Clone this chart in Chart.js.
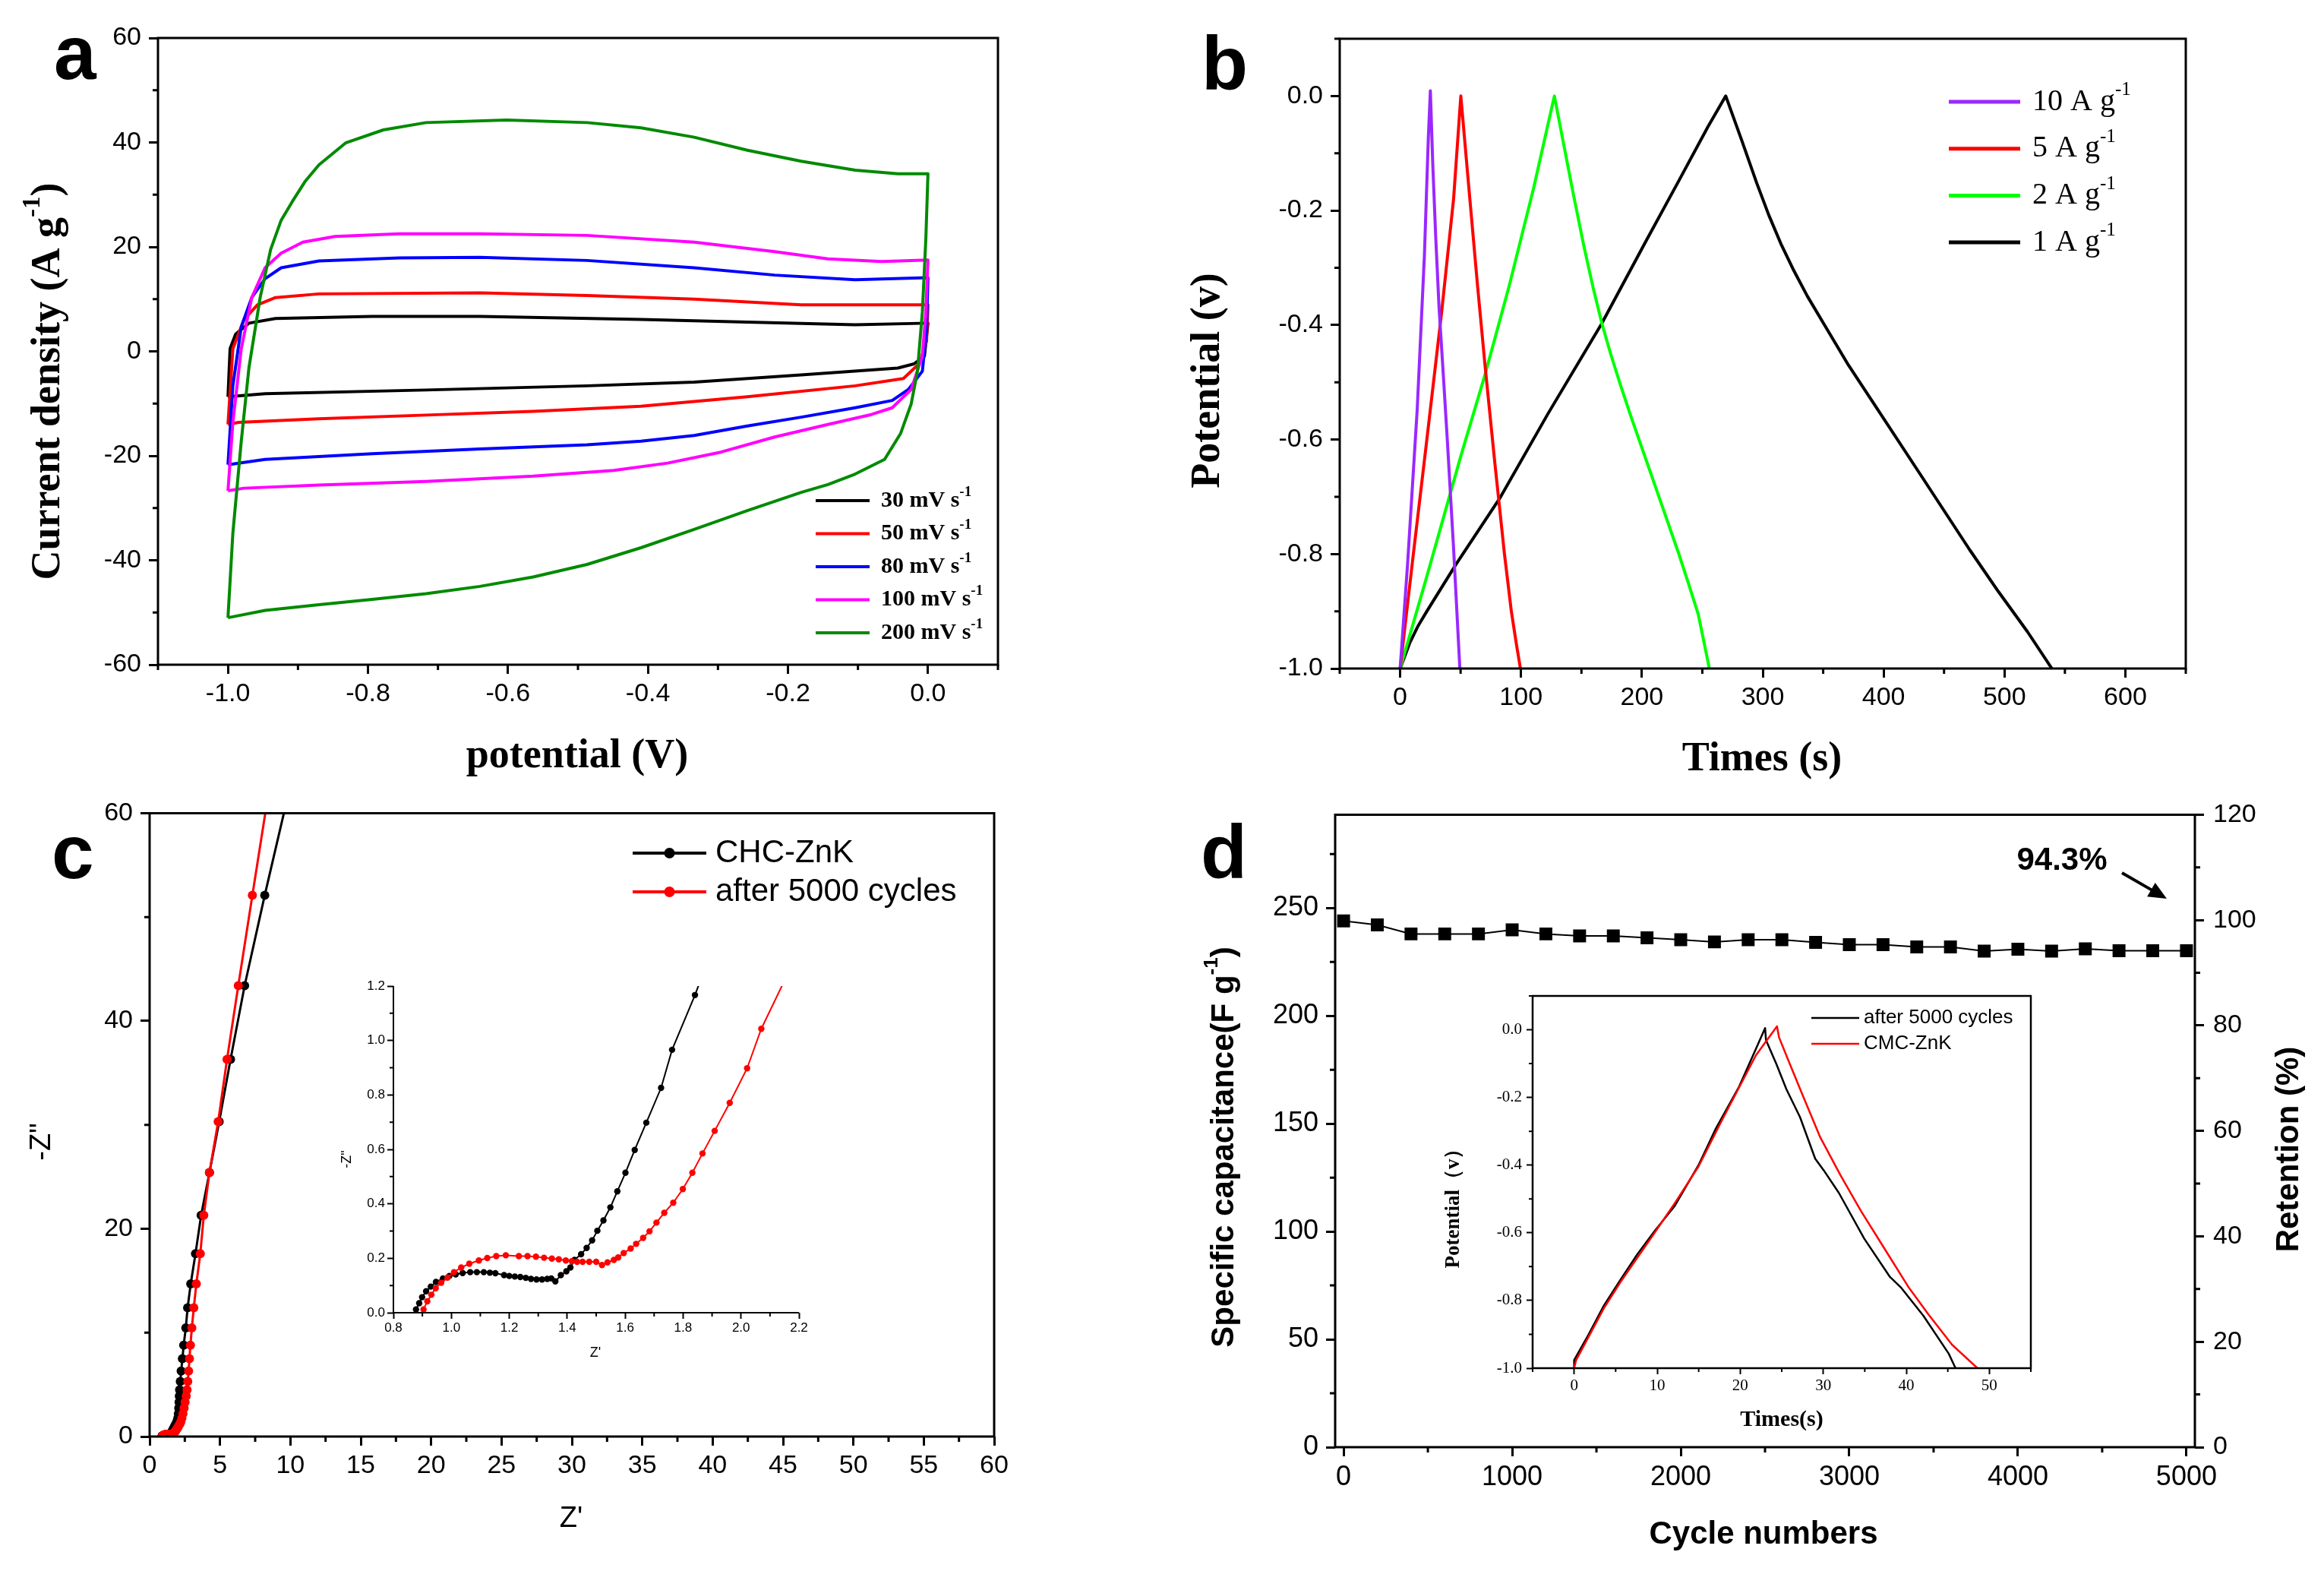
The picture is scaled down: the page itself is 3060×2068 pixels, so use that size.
<!DOCTYPE html>
<html>
<head>
<meta charset="utf-8">
<script src="https://cdn.jsdelivr.net/npm/chart.js@4.4.1/dist/chart.umd.min.js"></script>
<style>
  html, body { margin: 0; padding: 0; background: #fff; }
  #fig { position: relative; width: 3060px; height: 2068px; overflow: hidden; background: #fff; }
  #fig canvas { position: absolute; }
</style>
</head>
<body>
<div id="fig"></div>
<script>
// --- (a) cyclic voltammetry: potential (V) / current density (A g-1) ---
const cvLabels = ['30 mV s^{-1}', '50 mV s^{-1}', '80 mV s^{-1}', '100 mV s^{-1}', '200 mV s^{-1}'];
const cv30V = [-1.0, -0.997, -0.989, -0.97, -0.932, -0.794, -0.64, -0.41, -0.258, -0.104, 0.0, -0.005, -0.02, -0.043, -0.181, -0.334, -0.487, -0.717, -0.947, -1.0];
const cv30I = [-8.7, 0.5, 3.3, 5.4, 6.3, 6.7, 6.7, 6.1, 5.6, 5.1, 5.4, -0.9, -2.4, -3.2, -4.5, -5.9, -6.6, -7.4, -8.1, -8.7];
const cv50V = [-1.0, -0.993, -0.977, -0.958, -0.932, -0.87, -0.64, -0.487, -0.334, -0.181, 0.0, -0.002, -0.012, -0.035, -0.104, -0.258, -0.41, -0.564, -0.717, -0.87, -0.985, -1.0];
const cv50I = [-14.0, 0.5, 6.1, 8.9, 10.3, 11.0, 11.2, 10.7, 10.0, 8.9, 8.9, 1.9, -2.3, -5.2, -6.6, -8.7, -10.5, -11.5, -12.2, -12.9, -13.6, -14.0];
const cv80V = [-1.0, -0.993, -0.981, -0.966, -0.947, -0.924, -0.87, -0.755, -0.64, -0.487, -0.334, -0.219, -0.104, 0.0, -0.002, -0.008, -0.028, -0.051, -0.104, -0.181, -0.258, -0.334, -0.41, -0.487, -0.64, -0.794, -0.947, -1.0];
const cv80I = [-21.7, -6.6, 4.7, 10.3, 13.9, 16.0, 17.3, 17.9, 18.0, 17.4, 16.0, 14.6, 13.7, 14.1, 4.0, -3.8, -7.3, -9.4, -10.8, -12.6, -14.3, -16.1, -17.2, -17.9, -18.7, -19.6, -20.7, -21.7];
const cv100V = [-1.0, -0.993, -0.981, -0.966, -0.947, -0.924, -0.893, -0.847, -0.755, -0.64, -0.487, -0.334, -0.219, -0.143, -0.066, 0.0, -0.003, -0.008, -0.024, -0.051, -0.081, -0.143, -0.219, -0.296, -0.372, -0.449, -0.564, -0.717, -0.87, -0.977, -1.0];
const cv100I = [-26.7, -13.6, 0.5, 10.3, 16.0, 18.8, 20.9, 22.0, 22.5, 22.5, 22.2, 20.9, 19.1, 17.7, 17.2, 17.5, 7.5, -0.9, -7.3, -10.8, -12.1, -14.0, -16.4, -19.3, -21.4, -22.8, -23.9, -24.9, -25.6, -26.2, -26.7];
const cv200V = [-1.0, -0.993, -0.981, -0.970, -0.954, -0.939, -0.924, -0.908, -0.89, -0.87, -0.832, -0.778, -0.717, -0.602, -0.487, -0.41, -0.334, -0.258, -0.181, -0.104, -0.043, 0.0, -0.003, -0.008, -0.015, -0.024, -0.039, -0.062, -0.104, -0.143, -0.181, -0.258, -0.334, -0.41, -0.487, -0.564, -0.64, -0.717, -0.794, -0.87, -0.947, -1.0];
const cv200I = [-51.0, -34.8, -17.2, -3.1, 10.3, 19.5, 25.1, 28.7, 32.5, 35.7, 39.9, 42.4, 43.8, 44.3, 43.8, 42.8, 41.0, 38.5, 36.4, 34.7, 34.0, 34.0, 21.6, 7.5, -3.8, -10.1, -15.7, -20.7, -23.5, -25.5, -27.0, -30.5, -34.1, -37.6, -40.8, -43.2, -45.0, -46.4, -47.5, -48.5, -49.6, -51.0];
const aTicksX = [-1.0, -0.8, -0.6, -0.4, -0.2, 0.0];
const aMinorX = [-1.1, -0.9, -0.7, -0.5, -0.3, -0.1, 0.1];
const aTicksY = [-60, -40, -20, 0, 20, 40, 60];
const aMinorY = [-50, -30, -10, 10, 30, 50];

// --- (b) charge/discharge curves: time (s) / potential (V) ---
const gcdLabels = ['10 A g^{-1}', '5 A g^{-1}', '2 A g^{-1}', '1 A g^{-1}'];
const gcd10T = [0, 6.1, 14.1, 20.1, 23.3, 25.0, 27.0, 29.5, 32.2, 35.5, 39.0, 44.2, 49.4];
const gcd10V = [-1.0, -0.819, -0.548, -0.277, -0.074, 0.009, -0.12, -0.25, -0.37, -0.48, -0.6, -0.79, -1.0];
const gcd5T = [0, 10.1, 22.1, 34.2, 44.2, 50.2, 56.2, 64.2, 70.2, 78.3, 86.3, 92.0, 96.0, 99.5];
const gcd5V = [-1.0, -0.815, -0.6, -0.38, -0.18, 0.0, -0.145, -0.335, -0.47, -0.64, -0.80, -0.9, -0.955, -1.0];
const gcd2T = [0, 22.1, 50.2, 70.2, 90.3, 110.3, 127.6, 142.4, 152.0, 160.0, 167.0, 174.4, 182.0, 190.5, 210.5, 230.6, 238.0, 246.6, 251.0, 255.8];
const gcd2V = [-1.0, -0.839, -0.629, -0.487, -0.331, -0.162, 0.0, -0.162, -0.262, -0.338, -0.398, -0.452, -0.503, -0.557, -0.678, -0.8, -0.848, -0.905, -0.95, -1.0];
const gcd1T = [0, 8, 15, 22.1, 46.2, 82.3, 122.3, 166.4, 202.5, 230.6, 254.6, 269.4, 282.7, 295, 305, 315, 325, 337, 350.8, 370, 390.9, 431.0, 471.0, 495.1, 519.1, 539.2];
const gcd1V = [-1.0, -0.955, -0.925, -0.9, -0.818, -0.703, -0.555, -0.399, -0.257, -0.148, -0.054, 0.0, -0.078, -0.152, -0.208, -0.258, -0.302, -0.35, -0.399, -0.467, -0.534, -0.663, -0.792, -0.866, -0.936, -1.0];
const bTicksX = [0, 100, 200, 300, 400, 500, 600];
const bMinorX = [-50, 50, 150, 250, 350, 450, 550, 650];
const bTicksY = [-1.0, -0.8, -0.6, -0.4, -0.2, 0.0];
const bMinorY = [-0.9, -0.7, -0.5, -0.3, -0.1, 0.1];

// --- (c) Nyquist plots: Z' / -Z'' (main plot and inset share the data) ---
const eisLabels = ['CHC-ZnK', 'after 5000 cycles'];
const eisFreshRe = [0.878, 0.889, 0.899, 0.913, 0.929, 0.947, 0.971, 0.993, 1.015, 1.039, 1.065, 1.088, 1.112, 1.133, 1.152, 1.182, 1.200, 1.219, 1.238, 1.257, 1.275, 1.294, 1.313, 1.331, 1.345, 1.359, 1.378, 1.397, 1.411, 1.425, 1.448, 1.467, 1.486, 1.504, 1.525, 1.549, 1.573, 1.601, 1.633, 1.673, 1.724, 1.762, 1.841, 1.93, 2.00, 2.04, 2.07, 2.09, 2.11, 2.13, 2.18, 2.24, 2.33, 2.42, 2.57, 2.70, 2.92, 3.26, 3.66, 4.25, 4.94, 5.75, 6.75, 8.18, 10.4];
const eisFreshIm = [0.012, 0.035, 0.057, 0.079, 0.096, 0.113, 0.126, 0.135, 0.141, 0.146, 0.149, 0.149, 0.149, 0.147, 0.145, 0.138, 0.135, 0.133, 0.131, 0.128, 0.124, 0.122, 0.122, 0.124, 0.126, 0.115, 0.138, 0.152, 0.166, 0.194, 0.215, 0.238, 0.266, 0.301, 0.339, 0.387, 0.446, 0.514, 0.598, 0.698, 0.826, 0.966, 1.167, 1.42, 1.75, 2.2, 2.75, 3.3, 3.9, 4.5, 5.3, 6.3, 7.5, 8.8, 10.45, 12.4, 14.7, 17.6, 21.3, 25.4, 30.3, 36.3, 43.4, 52.1, 65.0];
const eisCycledRe = [0.904, 0.917, 0.931, 0.946, 0.965, 0.987, 1.009, 1.034, 1.062, 1.095, 1.124, 1.155, 1.188, 1.233, 1.263, 1.292, 1.320, 1.347, 1.371, 1.395, 1.416, 1.434, 1.453, 1.476, 1.500, 1.520, 1.539, 1.561, 1.576, 1.595, 1.619, 1.638, 1.662, 1.684, 1.708, 1.735, 1.766, 1.799, 1.832, 1.867, 1.909, 1.961, 2.021, 2.070, 2.15, 2.22, 2.29, 2.37, 2.45, 2.52, 2.60, 2.66, 2.71, 2.77, 2.83, 2.90, 3.00, 3.14, 3.32, 3.60, 3.85, 4.25, 4.87, 5.50, 6.30, 7.30, 8.8];
const eisCycledIm = [0.012, 0.042, 0.066, 0.090, 0.110, 0.129, 0.149, 0.166, 0.180, 0.192, 0.201, 0.208, 0.211, 0.208, 0.208, 0.206, 0.202, 0.199, 0.196, 0.192, 0.189, 0.187, 0.187, 0.187, 0.187, 0.175, 0.185, 0.194, 0.203, 0.219, 0.236, 0.253, 0.275, 0.299, 0.331, 0.367, 0.404, 0.454, 0.514, 0.585, 0.668, 0.771, 0.898, 1.043, 1.22, 1.45, 1.75, 2.2, 2.75, 3.3, 3.9, 4.5, 5.3, 6.3, 7.5, 8.8, 10.45, 12.4, 14.7, 17.6, 21.3, 25.4, 30.3, 36.3, 43.4, 52.1, 65.0];
const cTicksX = [0, 5, 10, 15, 20, 25, 30, 35, 40, 45, 50, 55, 60];
const cMinorX = [2.5, 7.5, 12.5, 17.5, 22.5, 27.5, 32.5, 37.5, 42.5, 47.5, 52.5, 57.5];
const cTicksY = [0, 20, 40, 60];
const cMinorY = [10, 30, 50];
const ciTicksX = [0.8, 1.0, 1.2, 1.4, 1.6, 1.8, 2.0, 2.2];
const ciMinorX = [0.9, 1.1, 1.3, 1.5, 1.7, 1.9, 2.1];
const ciTicksY = [0.0, 0.2, 0.4, 0.6, 0.8, 1.0, 1.2];
const ciMinorY = [0.1, 0.3, 0.5, 0.7, 0.9, 1.1];

// --- (d) cycling stability + inset charge/discharge ---
const cycles = [0, 200, 400, 600, 800, 1000, 1200, 1400, 1600, 1800, 2000, 2200, 2400, 2600, 2800, 3000, 3200, 3400, 3600, 3800, 4000, 4200, 4400, 4600, 4800, 5000];
const capacitance = [244.0, 242.2, 238.0, 238.0, 238.0, 239.9, 238.0, 237.1, 237.1, 236.2, 235.3, 234.3, 235.3, 235.3, 234.1, 233.0, 233.0, 232.0, 232.0, 230.0, 230.9, 230.0, 231.1, 230.2, 230.2, 230.2];
const retentionNote = '94.3%';
const dTicksX = [0, 1000, 2000, 3000, 4000, 5000];
const dMinorX = [500, 1500, 2500, 3500, 4500];
const dTicksY = [0, 50, 100, 150, 200, 250];
const dMinorY = [25, 75, 125, 175, 225, 275];
const dTicksY2 = [0, 20, 40, 60, 80, 100, 120];
const dMinorY2 = [10, 30, 50, 70, 90, 110];
const insetLabels = ['after 5000 cycles', 'CMC-ZnK'];
const gcdAfterT = [0, 0, 1.55, 3.58, 5.62, 7.65, 9.69, 12.13, 14.98, 17.0, 19.87, 21.9, 23.0, 23.1, 24.35, 25.57, 27.2, 29.03, 30.05, 31.88, 34.93, 37.99, 39.41, 42.06, 45.11, 45.93];
const gcdAfterV = [-1.0, -0.976, -0.909, -0.815, -0.737, -0.662, -0.595, -0.52, -0.40, -0.295, -0.168, -0.056, 0.005, -0.03, -0.101, -0.176, -0.258, -0.381, -0.415, -0.482, -0.617, -0.729, -0.763, -0.845, -0.957, -1.0];
const gcdCmcT = [0, 0.24, 3.58, 5.62, 9.69, 12.13, 14.98, 17.83, 21.9, 24.43, 24.67, 25.97, 27.6, 29.64, 32.08, 34.53, 37.38, 40.23, 42.67, 45.52, 48.57];
const gcdCmcV = [-1.0, -0.976, -0.823, -0.744, -0.6, -0.512, -0.404, -0.266, -0.075, 0.01, -0.022, -0.101, -0.198, -0.318, -0.43, -0.535, -0.647, -0.759, -0.841, -0.931, -1.0];
const diTicksX = [0, 10, 20, 30, 40, 50];
const diMinorX = [-5, 5, 15, 25, 35, 45, 55];
const diTicksY = [-1.0, -0.8, -0.6, -0.4, -0.2, 0.0];
const diMinorY = [-0.9, -0.7, -0.5, -0.3, -0.1, 0.1];

// --- styles ---
const SERIF = '"Liberation Serif", "DejaVu Serif", serif';
const SANS = '"Liberation Sans", "DejaVu Sans", sans-serif';
const cvColors = ['#000000', '#ff0000', '#0000ff', '#ff00ff', '#008a00'];
const gcdColors = ['#9a28ff', '#ff0000', '#00ff00', '#000000'];
const fmt0 = v => String(v);
const fmt1 = v => v.toFixed(1);
const ROT = -Math.PI / 2;

// split "A g^{-1}" into normal / superscript pieces
function richParts(str) {
  const parts = [];
  const re = /\^\{([^}]*)\}/g;
  let last = 0, m;
  while ((m = re.exec(str))) {
    if (m.index > last) parts.push([str.slice(last, m.index), false]);
    parts.push([m[1], true]);
    last = re.lastIndex;
  }
  if (last < str.length) parts.push([str.slice(last), false]);
  return parts;
}

function drawRich(ctx, t, off) {
  const parts = richParts(t.text);
  const w8 = t.weight || 'normal';
  const big = `${w8} ${t.size}px ${t.family}`;
  const small = `${w8} ${Math.round(t.size * 0.62)}px ${t.family}`;
  let total = 0;
  const widths = parts.map(([s, sup]) => {
    ctx.font = sup ? small : big;
    const w = ctx.measureText(s).width;
    total += w;
    return w;
  });
  ctx.save();
  ctx.translate(t.x - off[0], t.y - off[1]);
  if (t.rot) ctx.rotate(t.rot);
  ctx.fillStyle = '#000';
  ctx.textAlign = 'left';
  ctx.textBaseline = t.baseline || 'middle';
  let x = t.align === 'left' ? 0 : t.align === 'right' ? -total : -total / 2;
  parts.forEach(([s, sup], i) => {
    ctx.font = sup ? small : big;
    ctx.fillText(s, x, sup ? -t.size * 0.38 : 0);
    x += widths[i];
  });
  ctx.restore();
}

// frame, minor ticks, legend, free texts, arrows
const decor = {
  id: 'decor',
  afterDraw(chart, args, o) {
    const ctx = chart.ctx, a = chart.chartArea, off = o.offset;
    ctx.save();
    ctx.strokeStyle = '#000';
    if (o.frame) {
      ctx.lineWidth = o.frameWidth;
      ctx.beginPath();
      if (o.frame === 'box') ctx.rect(a.left, a.top, a.right - a.left, a.bottom - a.top);
      else { ctx.moveTo(a.left, a.top); ctx.lineTo(a.left, a.bottom); ctx.lineTo(a.right, a.bottom); }
      ctx.stroke();
    }
    (o.minor || []).forEach(m => {
      const s = chart.scales[m.axis];
      ctx.lineWidth = m.width;
      ctx.beginPath();
      m.values.forEach(v => {
        const p = s.getPixelForValue(v);
        if (m.axis === 'x') { ctx.moveTo(p, a.bottom); ctx.lineTo(p, a.bottom + m.len); }
        else if (s.position === 'right') { ctx.moveTo(a.right, p); ctx.lineTo(a.right + m.len, p); }
        else { ctx.moveTo(a.left, p); ctx.lineTo(a.left - m.len, p); }
      });
      ctx.stroke();
    });
    if (o.legend) {
      const L = o.legend;
      chart.data.datasets.forEach((ds, k) => {
        const y = L.y0 + k * L.dy;
        ctx.strokeStyle = ds.borderColor;
        ctx.lineWidth = L.lineWidth;
        ctx.beginPath();
        ctx.moveTo(L.x1 - off[0], y - off[1]);
        ctx.lineTo(L.x2 - off[0], y - off[1]);
        ctx.stroke();
        if (L.marker) {
          ctx.fillStyle = ds.borderColor;
          ctx.beginPath();
          ctx.arc((L.x1 + L.x2) / 2 - off[0], y - off[1], L.marker, 0, Math.PI * 2);
          ctx.fill();
        }
        drawRich(ctx, { text: ds.label, x: L.tx, y: y, size: L.size, family: L.family, weight: L.weight, align: 'left' }, off);
      });
    }
    (o.arrows || []).forEach(ar => {
      const x1 = ar.from[0] - off[0], y1 = ar.from[1] - off[1];
      const x2 = ar.to[0] - off[0], y2 = ar.to[1] - off[1];
      const ang = Math.atan2(y2 - y1, x2 - x1);
      ctx.strokeStyle = '#000';
      ctx.lineWidth = ar.width;
      ctx.beginPath();
      ctx.moveTo(x1, y1);
      ctx.lineTo(x2 - ar.head * 0.8 * Math.cos(ang), y2 - ar.head * 0.8 * Math.sin(ang));
      ctx.stroke();
      ctx.fillStyle = '#000';
      ctx.beginPath();
      ctx.moveTo(x2, y2);
      ctx.lineTo(x2 - ar.head * Math.cos(ang - 0.42), y2 - ar.head * Math.sin(ang - 0.42));
      ctx.lineTo(x2 - ar.head * Math.cos(ang + 0.42), y2 - ar.head * Math.sin(ang + 0.42));
      ctx.closePath();
      ctx.fill();
    });
    (o.texts || []).forEach(t => drawRich(ctx, t, off));
    ctx.restore();
  }
};

function axisCfg(a, position, size) {
  return {
    type: 'linear', position, min: a.min, max: a.max,
    afterBuildTicks: s => { s.ticks = a.ticks.map(v => ({ value: v })); },
    afterFit: s => { if (position === 'bottom') s.height = size; else s.width = size; },
    ticks: {
      autoSkip: false, maxRotation: 0, minRotation: 0, padding: a.pad, color: '#000',
      font: { family: a.family, size: a.fontSize }, callback: v => a.fmt(v)
    },
    grid: { display: true, drawOnChartArea: false, drawTicks: true, tickLength: a.tick, tickWidth: a.tickWidth, tickColor: '#000' },
    border: { display: false },
    title: { display: false }
  };
}

function panelChart(cfg) {
  const [cx, cy, cw, ch] = cfg.rect;
  const [L, T, R, B] = cfg.area;
  const canvas = document.createElement('canvas');
  canvas.width = cw;
  canvas.height = ch;
  Object.assign(canvas.style, { left: cx + 'px', top: cy + 'px', width: cw + 'px', height: ch + 'px' });
  document.getElementById('fig').appendChild(canvas);
  const scales = { x: axisCfg(cfg.x, 'bottom', cy + ch - B), y: axisCfg(cfg.y, 'left', L - cx) };
  if (cfg.y2) scales.y2 = axisCfg(cfg.y2, 'right', cx + cw - R);
  return new Chart(canvas, {
    type: 'scatter',
    data: { datasets: cfg.datasets },
    options: {
      responsive: false, animation: false, devicePixelRatio: 1, events: [],
      layout: { padding: { left: 0, bottom: 0, top: T - cy, right: cfg.y2 ? 0 : cx + cw - R } },
      plugins: { legend: { display: false }, tooltip: { enabled: false }, decor: Object.assign({ offset: [cx, cy] }, cfg.decor) },
      scales
    },
    plugins: [decor]
  });
}

const xy = (xs, ys) => xs.map((x, i) => ({ x, y: ys[i] }));
const lineSet = (label, pts, color, width, order) => ({
  label, data: pts, showLine: true, borderColor: color, backgroundColor: color,
  borderWidth: width, pointRadius: 0, tension: 0, order, borderJoinStyle: 'round'
});
const dotSet = (label, pts, color, width, r, order) => ({
  label, data: pts, showLine: true, borderColor: color, backgroundColor: color,
  borderWidth: width, pointRadius: r, pointBorderWidth: 0, pointBackgroundColor: color, tension: 0, order
});

const axX = { pad: 6, family: SANS, fontSize: 34, tick: 12, tickWidth: 3 };
const axY = { pad: 10, family: SANS, fontSize: 34, tick: 12, tickWidth: 3 };
const minorMain = (axis, values) => ({ axis, values, len: 7, width: 3 });
const minorInset = (axis, values) => ({ axis, values, len: 5, width: 2 });

// ---------- (a) ----------
const cvSeries = [[cv30V, cv30I], [cv50V, cv50I], [cv80V, cv80I], [cv100V, cv100I], [cv200V, cv200I]];
panelChart({
  rect: [0, 0, 1530, 1040], area: [208, 50, 1314, 875],
  x: Object.assign({ min: -1.1, max: 0.1, ticks: aTicksX, fmt: fmt1 }, axX),
  y: Object.assign({ min: -60, max: 60, ticks: aTicksY, fmt: fmt0 }, axY),
  datasets: cvSeries.map(([v, i], k) => lineSet(cvLabels[k], xy(v, i), cvColors[k], 4, cvSeries.length - k)),
  decor: {
    frame: 'box', frameWidth: 3,
    minor: [minorMain('x', aMinorX), minorMain('y', aMinorY)],
    legend: { x1: 1074, x2: 1145, tx: 1160, y0: 659, dy: 43.5, size: 30, family: SERIF, weight: 'bold', lineWidth: 4 },
    texts: [
      { text: 'a', x: 71, y: 104, size: 100, family: SANS, weight: 'bold', align: 'left', baseline: 'alphabetic' },
      { text: 'Current density (A g^{-1})', x: 64, y: 502, size: 54, family: SERIF, weight: 'bold', rot: ROT },
      { text: 'potential (V)', x: 760, y: 996, size: 54, family: SERIF, weight: 'bold' }
    ]
  }
});

// ---------- (b) ----------
const gcdSeries = [[gcd10T, gcd10V], [gcd5T, gcd5V], [gcd2T, gcd2V], [gcd1T, gcd1V]];
panelChart({
  rect: [1530, 0, 1530, 1040], area: [1764, 51, 2878, 880],
  x: Object.assign({ min: -50, max: 650, ticks: bTicksX, fmt: fmt0 }, axX),
  y: Object.assign({ min: -1.0, max: 0.1, ticks: bTicksY, fmt: fmt1 }, axY),
  datasets: gcdSeries.map(([t, v], k) => lineSet(gcdLabels[k], xy(t, v), gcdColors[k], 4, k)),
  decor: {
    frame: 'box', frameWidth: 3,
    minor: [minorMain('x', bMinorX), minorMain('y', bMinorY)],
    legend: { x1: 2566, x2: 2660, tx: 2676, y0: 134, dy: 61.7, size: 40, family: SERIF, weight: 'normal', lineWidth: 5 },
    texts: [
      { text: 'b', x: 1582, y: 118, size: 100, family: SANS, weight: 'bold', align: 'left', baseline: 'alphabetic' },
      { text: 'Potential (v)', x: 1591, y: 501, size: 54, family: SERIF, weight: 'bold', rot: ROT },
      { text: 'Times (s)', x: 2320, y: 1000, size: 54, family: SERIF, weight: 'bold' }
    ]
  }
});

// ---------- (c) ----------
const eisFresh = xy(eisFreshRe, eisFreshIm);
const eisCycled = xy(eisCycledRe, eisCycledIm);
panelChart({
  rect: [0, 1040, 1530, 1028], area: [197, 1064, 1309, 1891],
  x: Object.assign({ min: 0, max: 60, ticks: cTicksX, fmt: fmt0 }, axX),
  y: Object.assign({ min: 0, max: 60, ticks: cTicksY, fmt: fmt0 }, axY),
  datasets: [dotSet(eisLabels[0], eisFresh, '#000000', 3, 6, 2), dotSet(eisLabels[1], eisCycled, '#ff0000', 3, 6, 1)],
  decor: {
    frame: 'box', frameWidth: 3,
    minor: [minorMain('x', cMinorX), minorMain('y', cMinorY)],
    legend: { x1: 833, x2: 930, tx: 942, y0: 1123, dy: 51, size: 42, family: SANS, weight: 'normal', lineWidth: 4, marker: 7 },
    texts: [
      { text: 'c', x: 68, y: 1156, size: 100, family: SANS, weight: 'bold', align: 'left', baseline: 'alphabetic' },
      { text: '-Z"', x: 56, y: 1503, size: 38, family: SANS, rot: ROT },
      { text: "Z'", x: 752, y: 2000, size: 38, family: SANS }
    ]
  }
});

// ---------- (c) inset ----------
const axInC = { family: SANS, fontSize: 17, tick: 8, tickWidth: 2 };
panelChart({
  rect: [400, 1250, 720, 580], area: [518, 1298, 1052, 1728],
  x: Object.assign({ min: 0.8, max: 2.2, ticks: ciTicksX, fmt: fmt1, pad: 2 }, axInC),
  y: Object.assign({ min: 0, max: 1.2, ticks: ciTicksY, fmt: fmt1, pad: 3 }, axInC),
  datasets: [dotSet(eisLabels[0], eisFresh, '#000000', 2, 4.2, 2), dotSet(eisLabels[1], eisCycled, '#ff0000', 2, 4.2, 1)],
  decor: {
    frame: 'lb', frameWidth: 2,
    minor: [minorInset('x', ciMinorX), minorInset('y', ciMinorY)],
    texts: [
      { text: '-Z"', x: 457, y: 1526, size: 18, family: SANS, rot: ROT },
      { text: "Z'", x: 784, y: 1781, size: 18, family: SANS }
    ]
  }
});

// ---------- (d) ----------
panelChart({
  rect: [1530, 1040, 1530, 1028], area: [1758, 1062, 2890, 1905],
  x: Object.assign({ min: -50, max: 5050, ticks: dTicksX, fmt: fmt0 }, axX, { fontSize: 36 }),
  y: Object.assign({ min: 0, max: 293.3, ticks: dTicksY, fmt: fmt0 }, axY, { fontSize: 36 }),
  y2: Object.assign({ min: 0, max: 120, ticks: dTicksY2, fmt: fmt0 }, axY, { fontSize: 34, pad: 12 }),
  datasets: [{
    label: 'Specific capacitance', data: xy(cycles, capacitance), yAxisID: 'y', showLine: true,
    borderColor: '#000', borderWidth: 2, pointStyle: 'rect', pointRadius: 12, pointBorderWidth: 0,
    pointBackgroundColor: '#000', tension: 0
  }],
  decor: {
    frame: 'box', frameWidth: 3,
    minor: [minorMain('x', dMinorX), minorMain('y', dMinorY), minorMain('y2', dMinorY2)],
    arrows: [{ from: [2794, 1149], to: [2853, 1183], width: 4, head: 26 }],
    texts: [
      { text: 'd', x: 1581, y: 1156, size: 100, family: SANS, weight: 'bold', align: 'left', baseline: 'alphabetic' },
      { text: 'Specific capacitance(F g^{-1})', x: 1612, y: 1510, size: 42, family: SANS, weight: 'bold', rot: ROT },
      { text: 'Retention (%)', x: 3014, y: 1513, size: 42, family: SANS, weight: 'bold', rot: ROT },
      { text: 'Cycle numbers', x: 2322, y: 2020, size: 42, family: SANS, weight: 'bold' },
      { text: retentionNote, x: 2715, y: 1133, size: 42, family: SANS, weight: 'bold' }
    ]
  }
});

// ---------- (d) inset ----------
const axInD = { family: SERIF, fontSize: 21, tick: 8, tickWidth: 2 };
panelChart({
  rect: [1880, 1290, 830, 620], area: [2018, 1311, 2674, 1801],
  x: Object.assign({ min: -5, max: 55, ticks: diTicksX, fmt: fmt0, pad: 3 }, axInD),
  y: Object.assign({ min: -1.0, max: 0.1, ticks: diTicksY, fmt: fmt1, pad: 6 }, axInD),
  datasets: [
    lineSet(insetLabels[0], xy(gcdAfterT, gcdAfterV), '#000000', 2.5, 2),
    lineSet(insetLabels[1], xy(gcdCmcT, gcdCmcV), '#ff0000', 2.5, 1)
  ],
  decor: {
    frame: 'box', frameWidth: 2.5,
    minor: [minorInset('x', diMinorX), minorInset('y', diMinorY)],
    legend: { x1: 2385, x2: 2448, tx: 2454, y0: 1340, dy: 34, size: 26, family: SANS, weight: 'normal', lineWidth: 2.5 },
    texts: [
      { text: 'Times(s)', x: 2346, y: 1869, size: 30, family: SERIF, weight: 'bold' },
      { text: 'Potential（v）', x: 1914, y: 1584, size: 27, family: SERIF, weight: 'bold', rot: ROT }
    ]
  }
});
</script>
</body>
</html>
